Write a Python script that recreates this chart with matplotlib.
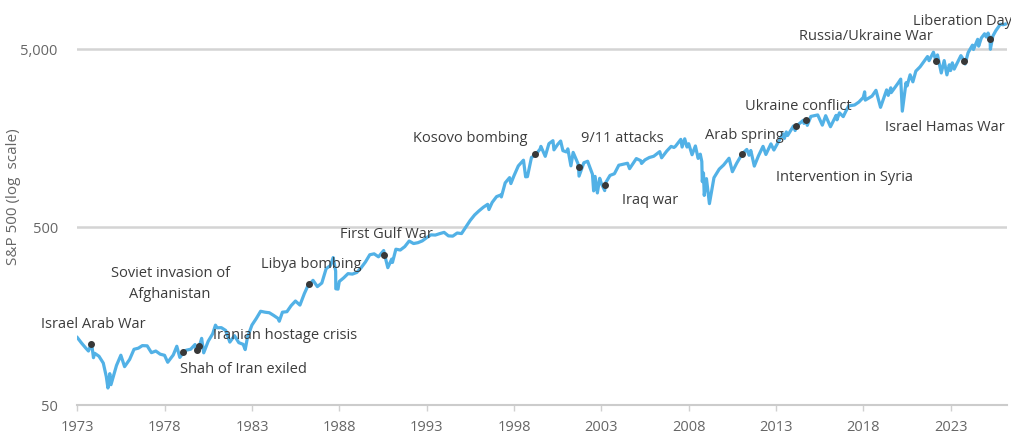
import numpy as np
import pandas as pd
import matplotlib
matplotlib.use('Agg')
from matplotlib import pyplot as plt
from matplotlib.ticker import FixedLocator, FuncFormatter

plt.rcParams['font.family'] = ['Open Sans', 'DejaVu Sans']

# S&P 500 level (approximate closes at notable dates)
dates = [
    '1973-01-02', '1973-03-30', '1973-06-29', '1973-08-22', '1973-10-26', '1973-12-05', '1973-12-31',
    '1974-03-29', '1974-06-28', '1974-08-30', '1974-10-03', '1974-11-11', '1974-12-06', '1974-12-31',
    '1975-03-31', '1975-06-30', '1975-09-16', '1975-12-31',
    '1976-03-31', '1976-06-30', '1976-09-21', '1976-12-31',
    '1977-03-31', '1977-06-30', '1977-09-30', '1977-12-30',
    '1978-03-06', '1978-06-30', '1978-09-12', '1978-11-14', '1978-12-29',
    '1979-01-16', '1979-03-30', '1979-06-29', '1979-09-28', '1979-11-07', '1979-12-31',
    '1980-02-13', '1980-03-27', '1980-06-30', '1980-09-30', '1980-11-28', '1980-12-31',
    '1981-03-31', '1981-06-30', '1981-09-25', '1981-12-31',
    '1982-03-31', '1982-06-30', '1982-08-12', '1982-09-30', '1982-12-31',
    '1983-03-31', '1983-06-30', '1983-09-30', '1983-12-30',
    '1984-03-30', '1984-06-29', '1984-07-24', '1984-09-28', '1984-12-31',
    '1985-03-29', '1985-06-28', '1985-09-30', '1985-12-31',
    '1986-03-31', '1986-04-15', '1986-06-30', '1986-09-29', '1986-12-31',
    '1987-03-31', '1987-06-30', '1987-08-25', '1987-10-16', '1987-10-19', '1987-12-04', '1987-12-31',
    '1988-03-31', '1988-06-30', '1988-09-30', '1988-12-30',
    '1989-03-31', '1989-06-30', '1989-09-29', '1989-12-29',
    '1990-03-30', '1990-07-16', '1990-08-02', '1990-10-11', '1990-12-31',
    '1991-01-16', '1991-03-28', '1991-06-28', '1991-09-30', '1991-12-31',
    '1992-03-31', '1992-06-30', '1992-09-30', '1992-12-31',
    '1993-03-31', '1993-06-30', '1993-09-30', '1993-12-31',
    '1994-03-31', '1994-06-30', '1994-09-30', '1994-12-30',
    '1995-03-31', '1995-06-30', '1995-09-29', '1995-12-29',
    '1996-03-29', '1996-06-28', '1996-07-24', '1996-09-30', '1996-12-31',
    '1997-03-31', '1997-04-11', '1997-06-30', '1997-09-30', '1997-10-27', '1997-12-31',
    '1998-03-31', '1998-07-17', '1998-08-31', '1998-10-08', '1998-12-31',
    '1999-03-24', '1999-06-30', '1999-07-16', '1999-10-15', '1999-12-31',
    '2000-03-24', '2000-04-14', '2000-06-30', '2000-09-01', '2000-10-18', '2000-12-31',
    '2001-01-30', '2001-04-04', '2001-05-21', '2001-08-31', '2001-09-10', '2001-09-21', '2001-12-31',
    '2002-03-19', '2002-06-28', '2002-07-23', '2002-08-22', '2002-10-09', '2002-11-27', '2002-12-31',
    '2003-03-11', '2003-03-20', '2003-06-30', '2003-09-30', '2003-12-31',
    '2004-03-31', '2004-06-30', '2004-08-12', '2004-12-31',
    '2005-03-31', '2005-04-20', '2005-06-30', '2005-09-30', '2005-12-30',
    '2006-05-05', '2006-06-13', '2006-09-29', '2006-12-29',
    '2007-02-27', '2007-03-30', '2007-07-19', '2007-08-15', '2007-10-09', '2007-11-26', '2007-12-31',
    '2008-03-10', '2008-05-19', '2008-07-15', '2008-08-29', '2008-09-30', '2008-10-10', '2008-11-04', '2008-11-20',
    '2009-01-06', '2009-03-09', '2009-06-12', '2009-09-30', '2009-12-31',
    '2010-04-23', '2010-07-02', '2010-09-30', '2010-12-31',
    '2011-01-25', '2011-04-29', '2011-06-15', '2011-07-22', '2011-10-03', '2011-12-30',
    '2012-04-02', '2012-06-01', '2012-09-14', '2012-11-15', '2012-12-31',
    '2013-05-21', '2013-06-24', '2013-08-02', '2013-08-30', '2013-12-31',
    '2014-02-03', '2014-03-03', '2014-07-24', '2014-08-07', '2014-09-22', '2014-10-15', '2014-12-29',
    '2015-05-21', '2015-08-25', '2015-11-03',
    '2016-02-11', '2016-06-08', '2016-06-27', '2016-08-15', '2016-11-04', '2016-12-30',
    '2017-03-01', '2017-06-30', '2017-09-29', '2017-12-29',
    '2018-01-26', '2018-02-08', '2018-06-29', '2018-09-20', '2018-12-24',
    '2019-04-30', '2019-06-03', '2019-07-26', '2019-08-05', '2019-12-31',
    '2020-02-19', '2020-03-23', '2020-06-08', '2020-06-30', '2020-09-02', '2020-10-30', '2020-12-31',
    '2021-03-31', '2021-06-30', '2021-09-02', '2021-10-04',
    '2022-01-03', '2022-02-24', '2022-03-29', '2022-06-16', '2022-08-16', '2022-10-12', '2022-12-01', '2022-12-28',
    '2023-02-02', '2023-03-13', '2023-07-31', '2023-10-06', '2023-10-27', '2023-12-29',
    '2024-03-28', '2024-04-19', '2024-07-16', '2024-08-05', '2024-09-30', '2024-12-06',
    '2025-01-13', '2025-02-19', '2025-04-02', '2025-04-08', '2025-05-30', '2025-07-31', '2025-09-30',
    '2025-10-28', '2025-12-31', '2026-02-15',
]
spx = [
    119.6, 111.5, 104.3, 100.5, 111.4, 92.2, 97.6,
    94.0, 86.0, 72.2, 62.3, 75.0, 65.0, 68.6,
    83.4, 95.2, 82.1, 90.2,
    102.8, 104.3, 107.8, 107.5,
    98.4, 100.5, 96.5, 95.1,
    86.9, 95.5, 106.9, 92.5, 96.1,
    99.5, 101.6, 102.9, 109.3, 99.9, 107.9,
    118.4, 98.2, 114.2, 125.5, 140.5, 135.8,
    136.0, 131.2, 112.8, 122.6,
    112.0, 109.6, 102.4, 120.4, 140.6,
    153.0, 168.1, 166.1, 164.9,
    159.2, 153.2, 147.8, 166.1, 167.2,
    180.7, 191.9, 182.1, 211.3,
    238.9, 237.7, 250.8, 231.3, 242.2,
    291.7, 304.0, 336.8, 282.7, 224.8, 223.9, 247.1,
    258.9, 273.5, 271.9, 277.7,
    294.9, 318.0, 349.2, 353.4,
    339.9, 369.0, 351.5, 295.5, 330.2,
    316.2, 375.2, 371.2, 387.9, 417.1,
    403.7, 408.1, 417.8, 435.7,
    451.7, 450.5, 458.9, 466.5,
    445.8, 444.3, 462.7, 459.3,
    500.7, 544.8, 584.4, 615.9,
    645.5, 670.6, 626.7, 687.3, 740.7,
    757.1, 737.7, 885.1, 947.3, 876.9, 970.4,
    1101.8, 1186.8, 957.3, 959.4, 1229.2,
    1268.6, 1372.7, 1418.8, 1247.4, 1469.3,
    1527.5, 1356.6, 1454.6, 1520.8, 1342.1, 1320.3,
    1373.7, 1103.3, 1312.8, 1133.6, 1092.5, 965.8, 1148.1,
    1170.3, 989.8, 797.7, 962.7, 776.8, 938.9, 879.8,
    800.7, 875.7, 974.5, 996.0, 1111.9,
    1126.2, 1140.8, 1063.2, 1211.9,
    1180.6, 1137.5, 1191.3, 1228.8, 1248.3,
    1325.8, 1223.7, 1335.8, 1418.3,
    1399.0, 1420.9, 1553.1, 1406.7, 1565.2, 1407.2, 1468.4,
    1273.4, 1426.6, 1214.9, 1282.8, 1166.4, 899.2, 1005.8, 752.4,
    934.7, 676.5, 946.2, 1057.1, 1115.1,
    1217.3, 1022.6, 1141.2, 1257.6,
    1291.2, 1363.6, 1265.4, 1345.0, 1099.2, 1257.6,
    1419.0, 1278.0, 1465.8, 1353.3, 1426.2,
    1669.2, 1573.1, 1709.7, 1633.0, 1848.4,
    1741.9, 1845.7, 1988.0, 1909.6, 1994.3, 1862.5, 2090.6,
    2130.8, 1867.6, 2109.8,
    1829.1, 2119.1, 2000.5, 2190.2, 2085.2, 2238.8,
    2396.0, 2423.4, 2519.4, 2673.6,
    2872.9, 2581.0, 2718.4, 2930.8, 2351.1,
    2945.8, 2744.5, 3025.9, 2844.7, 3230.8,
    3386.2, 2237.4, 3232.4, 3100.3, 3580.8, 3270.0, 3756.1,
    3972.9, 4297.5, 4537.0, 4300.5,
    4796.6, 4288.7, 4631.6, 3666.8, 4305.2, 3577.0, 4076.6, 3783.2,
    4179.8, 3855.8, 4589.0, 4308.5, 4117.4, 4769.8,
    5254.4, 4967.2, 5667.2, 5186.3, 5762.5, 6090.3,
    5836.2, 6144.2, 5671.0, 4982.8, 5911.7, 6339.4, 6688.5,
    6890.9, 6845.5, 6900.0,
]

events = ['Israel Arab War', 'Shah of Iran exiled', 'Iranian hostage crisis',
          'Soviet invasion of\nAfghanistan', 'Libya bombing', 'First Gulf War',
          'Kosovo bombing', '9/11 attacks', 'Iraq war', 'Arab spring',
          'Ukraine conflict', 'Intervention in Syria', 'Russia/Ukraine War',
          'Israel Hamas War', 'Liberation Day']
event_dates = ['1973-10-06', '1979-01-16', '1979-11-04', '1979-12-27', '1986-04-15',
               '1990-08-02', '1999-03-24', '2001-09-10', '2003-03-20', '2011-01-25',
               '2014-03-03', '2014-09-22', '2022-02-24', '2023-10-06', '2025-04-02']
event_values = [110, 99.5, 101.5, 107.5, 238, 350, 1285, 1090, 860, 1280,
                1845, 1994, 4290, 4308, 5671]

# label anchors (year, level) and alignment
label_pos = [(1970.93, 140.8, 'left'), (1978.88, 79.6, 'left'), (1980.78, 122.1, 'left'),
             (1978.31, 239, 'center'), (1983.52, 309.8, 'left'), (1988.04, 451, 'left'),
             (1992.22, 1561, 'left'), (2001.83, 1561, 'left'), (2004.18, 709, 'left'),
             (2008.93, 1623, 'left'), (2011.22, 2391, 'left'), (2012.99, 943, 'left'),
             (2014.30, 5916, 'left'), (2019.23, 1823, 'left'), (2020.84, 7182, 'left')]


def to_year(d):
    d = pd.to_datetime(pd.Series(d))
    return (d.dt.year + (d.dt.dayofyear - 1) / 365.25).values


x = to_year(dates)
ex = to_year(event_dates)

W, H = 1011, 438
fig = plt.figure(figsize=(W / 100, H / 100), dpi=100)
ax = fig.add_axes([77.3 / W, 33 / H, (1006.7 - 77.3) / W, 405 / H])

ax.plot(x, spx, color='#52B1E6', lw=2.3, solid_joinstyle='round', zorder=3)
ax.plot(ex, event_values, 'o', color='#383838', ms=4, zorder=4)

for name, (lx, ly, ha) in zip(events, label_pos):
    ax.text(lx, ly, name, ha=ha, va='center', fontsize=10.5, color='#3c3c3c',
            linespacing=1.55, clip_on=False, zorder=5)

ax.set_yscale('log')
ax.set_ylim(50, 9425)
ax.set_xlim(1973, 2026.2)

ax.yaxis.set_major_locator(FixedLocator([50, 500, 5000]))
ax.yaxis.set_minor_locator(FixedLocator([]))
ax.yaxis.set_major_formatter(FuncFormatter(lambda v, p: '{:,.0f}'.format(v)))
ax.set_xticks(np.arange(1973, 2024, 5))

ax.grid(axis='y', color='#d4d4d4', lw=1.8)
ax.set_axisbelow(True)
for s in ['top', 'right', 'left']:
    ax.spines[s].set_visible(False)
ax.spines['bottom'].set_color('#cccccc')
ax.spines['bottom'].set_linewidth(1.5)
ax.tick_params(axis='x', length=4, width=1, color='#d0d0d0', labelsize=10.5,
               labelcolor='#666666', pad=7)
ax.tick_params(axis='y', length=0, labelsize=10.5, labelcolor='#666666', pad=14)

fig.text(14 / W, 1 - 197 / H, 'S&P 500 (log  scale)', rotation=90, ha='center',
         va='center', fontsize=11, color='#666666')

fig.savefig('out.png', dpi=100)
